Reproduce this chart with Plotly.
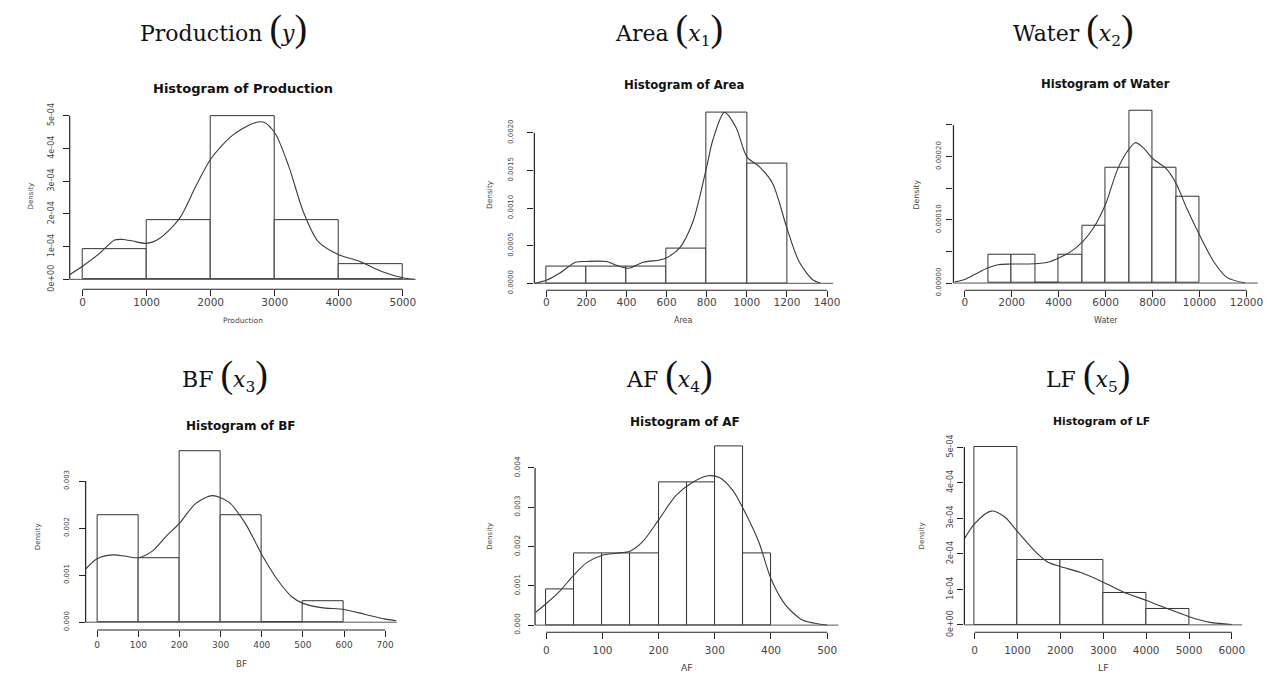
import plotly.graph_objects as go

W, H = 1279, 678

# ---------------- data ----------------
# histogram breaks and counts (n = 22 observations)
prod_breaks = [0, 1000, 2000, 3000, 4000, 5000]
prod_counts = [2, 4, 11, 4, 1]
area_breaks = [0, 200, 400, 600, 800, 1000, 1200]
area_counts = [1, 1, 1, 2, 10, 7]
water_breaks = [1000, 2000, 3000, 4000, 5000, 6000, 7000, 8000, 9000, 10000]
water_counts = [1, 1, 0, 1, 2, 4, 6, 4, 3]
bf_breaks = [0, 100, 200, 300, 400, 500, 600]
bf_counts = [5, 3, 8, 5, 0, 1]
af_breaks = [0, 50, 100, 150, 200, 250, 300, 350, 400]
af_counts = [1, 2, 2, 2, 4, 4, 5, 2]
lf_breaks = [0, 1000, 2000, 3000, 4000, 5000]
lf_counts = [11, 4, 4, 2, 1]

# kernel density curves
prod_dx = [-196, 0, 270, 500, 630, 786, 1000, 1200, 1510, 1770, 2010, 2340, 2670, 2830,
           3010, 3220, 3450, 3680, 4000, 4300, 4660, 5000, 5180]
prod_dy = [0.15e-4, 0.4e-4, 0.8e-4, 1.2e-4, 1.22e-4, 1.17e-4, 1.1e-4, 1.25e-4, 1.85e-4,
           2.85e-4, 3.7e-4, 4.4e-4, 4.77e-4, 4.8e-4, 4.45e-4, 3.45e-4, 2.05e-4, 1.15e-4,
           0.75e-4, 0.57e-4, 0.25e-4, 0.05e-4, 0.0]
area_dx = [-60, 0, 70, 145, 200, 300, 350, 410, 483, 565, 600, 665, 730, 800, 830, 888,
           946, 1000, 1062, 1128, 1200, 1260, 1327, 1368]
area_dy = [0.0, 0.00004, 0.00014, 0.00028, 0.00029, 0.00029, 0.00024, 0.0002, 0.00028,
           0.00031, 0.00034, 0.00047, 0.00081, 0.00155, 0.0019, 0.00227, 0.00207, 0.00168,
           0.00155, 0.00133, 0.00073, 0.00029, 0.00005, 0.0]
water_dx = [-424, 0, 424, 989, 1412, 1977, 2966, 3531, 3983, 4520, 5014, 5508, 6000, 6500,
            6920, 7270, 7630, 8000, 8550, 8980, 9470, 10000, 10600, 11160, 11940]
water_dy = [0.2e-5, 0.57e-5, 1.35e-5, 2.4e-5, 2.9e-5, 3.0e-5, 3.06e-5, 3.3e-5, 3.94e-5,
            4.97e-5, 6.5e-5, 8.86e-5, 1.25e-4, 1.79e-4, 2.08e-4, 2.22e-4, 2.13e-4, 1.97e-4,
            1.82e-4, 1.59e-4, 1.17e-4, 0.76e-4, 0.34e-4, 0.09e-4, 0.0]
bf_dx = [-28, 0, 38, 70, 100, 134, 167, 200, 239, 280, 320, 360, 400, 440, 473, 500, 545,
         600, 650, 698, 727]
bf_dy = [0.00113, 0.00135, 0.00143, 0.0014, 0.00137, 0.00151, 0.00182, 0.0021, 0.00252,
         0.00269, 0.00255, 0.0021, 0.00144, 0.00088, 0.00054, 0.0004, 0.00031, 0.00027,
         0.00017, 0.00007, 0.00003]
af_dx = [-19, 0, 25, 48, 72, 100, 125, 149, 172, 200, 231, 260, 288, 308, 332, 355, 379,
         400, 426, 456, 485, 500]
af_dy = [0.000325, 0.00055, 0.00088, 0.00126, 0.00159, 0.00178, 0.00183, 0.00188, 0.00213,
         0.00268, 0.0033, 0.00363, 0.0038, 0.00376, 0.00343, 0.00284, 0.00209, 0.00118,
         0.00051, 0.00013, 0.00003, 0.0]
lf_dx = [-255, 0, 387, 696, 1000, 1392, 1700, 2000, 2475, 3000, 3480, 4000, 4486, 5000,
         5490, 6000]
lf_dy = [2.39e-4, 2.85e-4, 3.2e-4, 3.04e-4, 2.62e-4, 2.09e-4, 1.77e-4, 1.64e-4, 1.47e-4,
         1.2e-4, 0.92e-4, 0.69e-4, 0.46e-4, 0.23e-4, 0.07e-4, 0.01e-4]

# tick values / labels
prod_xt = [0, 1000, 2000, 3000, 4000, 5000]
prod_yt = [0, 1e-4, 2e-4, 3e-4, 4e-4, 5e-4]
prod_yl = ["0e+00", "1e-04", "2e-04", "3e-04", "4e-04", "5e-04"]
area_xt = [0, 200, 400, 600, 800, 1000, 1200, 1400]
area_yt = [0, 0.0005, 0.0010, 0.0015, 0.0020]
area_yl = ["0.0000", "0.0005", "0.0010", "0.0015", "0.0020"]
water_xt = [0, 2000, 4000, 6000, 8000, 10000, 12000]
water_yt = [0, 1e-4, 2e-4]
water_yl = ["0.00000", "0.00010", "0.00020"]
water_ytop = 2.5e-4          # last (unlabelled) tick of the Water y axis
water_ystep = 5e-5           # unlabelled tick spacing on the Water y axis
bf_xt = [0, 100, 200, 300, 400, 500, 600, 700]
bf_yt = [0, 0.001, 0.002, 0.003]
bf_yl = ["0.000", "0.001", "0.002", "0.003"]
af_xt = [0, 100, 200, 300, 400, 500]
af_yt = [0, 0.001, 0.002, 0.003, 0.004]
af_yl = ["0.000", "0.001", "0.002", "0.003", "0.004"]
lf_xt = [0, 1000, 2000, 3000, 4000, 5000, 6000]
lf_yt = [0, 1e-4, 2e-4, 3e-4, 4e-4, 5e-4]
lf_yl = ["0e+00", "1e-04", "2e-04", "3e-04", "4e-04", "5e-04"]

panels = [
    dict(name="Production", breaks=prod_breaks, counts=prod_counts, dx=prod_dx, dy=prod_dy,
         xt=prod_xt, yt=prod_yt, yl=prod_yl),
    dict(name="Area", breaks=area_breaks, counts=area_counts, dx=area_dx, dy=area_dy,
         xt=area_xt, yt=area_yt, yl=area_yl),
    dict(name="Water", breaks=water_breaks, counts=water_counts, dx=water_dx, dy=water_dy,
         xt=water_xt, yt=water_yt, yl=water_yl, ytop=water_ytop, ystep=water_ystep),
    dict(name="BF", breaks=bf_breaks, counts=bf_counts, dx=bf_dx, dy=bf_dy,
         xt=bf_xt, yt=bf_yt, yl=bf_yl),
    dict(name="AF", breaks=af_breaks, counts=af_counts, dx=af_dx, dy=af_dy,
         xt=af_xt, yt=af_yt, yl=af_yl),
    dict(name="LF", breaks=lf_breaks, counts=lf_counts, dx=lf_dx, dy=lf_dy,
         xt=lf_xt, yt=lf_yt, yl=lf_yl),
]

# ---------------- layout geometry (pixels) ----------------
geo = [
    dict(xr=[-200, 5200], xpx=[70.1, 417.9], yr=[-3e-5, 5.2e-4], ypx=[105.0, 288.3],
         title_xy=(244, 84), tsize=13, xlab_y=320, xlsize=7.5, dens_x=31, dens_y=193,
         dsize=7, ytsize=8, ystand=6, xtsize=10.5, xstand=-3),
    dict(xr=[-59.5, 1430], xpx=[537.3, 837.7], yr=[-9.13e-5, 0.00236], ypx=[101.4, 289.3],
         title_xy=(687.5, 80), tsize=11.7, xlab_y=320, xlsize=8, dens_x=492, dens_y=192,
         dsize=7.4, ytsize=7, ystand=12, xtsize=10.5, xstand=-4),
    dict(xr=[-480, 12480], xpx=[958.7, 1264.7], yr=[-1.13e-5, 2.836e-4], ypx=[99.5, 289.3],
         title_xy=(1112, 79), tsize=11.6, xlab_y=320, xlsize=8, dens_x=922, dens_y=192,
         dsize=7.8, ytsize=7, ystand=3, xtsize=10.5, xstand=-4),
    dict(xr=[-28, 728], xpx=[86.1, 398.9], yr=[-0.000167, 0.003782], ypx=[446.1, 635.3],
         title_xy=(242, 428), tsize=12, xlab_y=670, xlsize=8.7, dens_x=38, dens_y=540,
         dsize=7.1, ytsize=7, ystand=7, xtsize=9, xstand=0),
    dict(xr=[-20, 520], xpx=[538.0, 843.0], yr=[-0.000183, 0.004727], ypx=[441.2, 637.6],
         title_xy=(689, 423), tsize=12, xlab_y=673, xlsize=9.3, dens_x=492, dens_y=540,
         dsize=7.1, ytsize=7.5, ystand=5, xtsize=10.5, xstand=2),
    dict(xr=[-240, 6240], xpx=[969.7, 1249.0], yr=[-2.1e-5, 5.2e-4], ypx=[441.8, 637.6],
         title_xy=(1108, 423), tsize=10.8, xlab_y=673, xlsize=9.3, dens_x=927, dens_y=539,
         dsize=7.1, ytsize=8, ystand=1, xtsize=10.5, xstand=2),
]

headings = [
    ("Production", "<i>y</i>", 224.5, 22.5),
    ("Area", "<i>x</i><sub>1</sub>", 673, 22.5),
    ("Water", "<i>x</i><sub>2</sub>", 1079, 22.5),
    ("BF", "<i>x</i><sub>3</sub>", 226, 375),
    ("AF", "<i>x</i><sub>4</sub>", 673, 375),
    ("LF", "<i>x</i><sub>5</sub>", 1094, 375),
]

LINE = "#333333"
AXC = "#222222"
TXT = "#444444"

fig = go.Figure()
layout = dict(width=W, height=H, margin=dict(l=0, r=0, t=0, b=0),
              paper_bgcolor="white", plot_bgcolor="white", showlegend=False,
              bargap=0)
shapes, annotations = [], []


def px_x(p):
    return p / W


def px_y(p):
    return 1 - p / H


for i, (p, g) in enumerate(zip(panels, geo)):
    k = "" if i == 0 else str(i + 1)
    xa, ya = "x" + k, "y" + k
    n = sum(p["counts"])
    br = p["breaks"]
    centers = [(a + b) / 2 for a, b in zip(br[:-1], br[1:])]
    widths = [b - a for a, b in zip(br[:-1], br[1:])]
    dens = [c / (n * w) for c, w in zip(p["counts"], widths)]

    fig.add_trace(go.Bar(x=centers, y=dens, width=widths, xaxis=xa, yaxis=ya,
                         marker=dict(color="white", line=dict(color=LINE, width=1)),
                         hoverinfo="skip"))
    fig.add_trace(go.Scatter(x=p["dx"], y=p["dy"], mode="lines", xaxis=xa, yaxis=ya,
                             line=dict(color="#3a3a3a", width=1.1, shape="spline",
                                       smoothing=0.8),
                             hoverinfo="skip"))

    layout["xaxis" + k] = dict(
        domain=[px_x(g["xpx"][0]), px_x(g["xpx"][1])], range=g["xr"], anchor=ya,
        showgrid=False, zeroline=False, showline=False,
        tickmode="array", tickvals=p["xt"], ticktext=[str(v) for v in p["xt"]],
        ticks="outside", ticklen=6, tickcolor=AXC, tickwidth=1,
        tickfont=dict(family="DejaVu Sans", size=g["xtsize"], color=TXT),
        ticklabelstandoff=g["xstand"])
    yax = dict(
        domain=[px_y(g["ypx"][1]), px_y(g["ypx"][0])], range=g["yr"], anchor=xa,
        showgrid=False, zeroline=False, showline=False,
        tickmode="array", tickvals=p["yt"], ticktext=p["yl"], tickangle=-90,
        ticks="outside", ticklen=6, tickcolor=AXC, tickwidth=1,
        tickfont=dict(family="DejaVu Sans", size=g["ytsize"], color=TXT),
        ticklabelstandoff=g["ystand"])
    ytop = p.get("ytop", p["yt"][-1])
    if "ystep" in p:
        yax["minor"] = dict(tick0=0, dtick=p["ystep"], ticks="outside", ticklen=6,
                            tickcolor=AXC, tickwidth=1, showgrid=False)
    layout["yaxis" + k] = yax

    # axis spines spanning first..last tick (R style)
    shapes.append(dict(type="line", xref=xa, yref=ya + " domain", x0=p["xt"][0],
                       x1=p["xt"][-1], y0=0, y1=0, line=dict(color=AXC, width=1.1)))
    shapes.append(dict(type="line", xref=xa + " domain", yref=ya, x0=0, x1=0,
                       y0=p["yt"][0], y1=ytop, line=dict(color=AXC, width=1.2)))
    # zero baseline across the plot
    shapes.append(dict(type="line", xref=xa + " domain", yref=ya, x0=0, x1=1, y0=0, y1=0,
                       line=dict(color="#555555", width=1)))

    # titles and labels
    tx, ty = g["title_xy"]
    annotations.append(dict(x=px_x(tx), y=px_y(ty), xref="paper", yref="paper",
                            text="<b>Histogram of %s</b>" % p["name"], showarrow=False,
                            xanchor="center", yanchor="middle",
                            font=dict(family="DejaVu Sans", size=g["tsize"], color="#111")))
    cx = (g["xpx"][0] + g["xpx"][1]) / 2
    annotations.append(dict(x=px_x(cx), y=px_y(g["xlab_y"]), xref="paper", yref="paper",
                            text=p["name"], showarrow=False, xanchor="center",
                            yanchor="middle",
                            font=dict(family="DejaVu Sans", size=g["xlsize"], color=TXT)))
    annotations.append(dict(x=px_x(g["dens_x"]), y=px_y(g["dens_y"]), xref="paper",
                            yref="paper", text="Density", showarrow=False, textangle=-90,
                            xanchor="center", yanchor="middle",
                            font=dict(family="DejaVu Sans", size=g["dsize"], color=TXT)))

PAREN = '<span style="font-family:Liberation Serif;font-size:38px">%s</span>'
for name, var, hx, hy in headings:
    txt = name + " " + (PAREN % "(") + var + (PAREN % ")")
    annotations.append(dict(x=px_x(hx), y=px_y(hy), xref="paper", yref="paper", text=txt,
                            showarrow=False, xanchor="center", yanchor="middle",
                            font=dict(family="DejaVu Serif", size=22, color="#111")))

layout["shapes"] = shapes
layout["annotations"] = annotations
fig.update_layout(**layout)
fig.write_html("out.html")
